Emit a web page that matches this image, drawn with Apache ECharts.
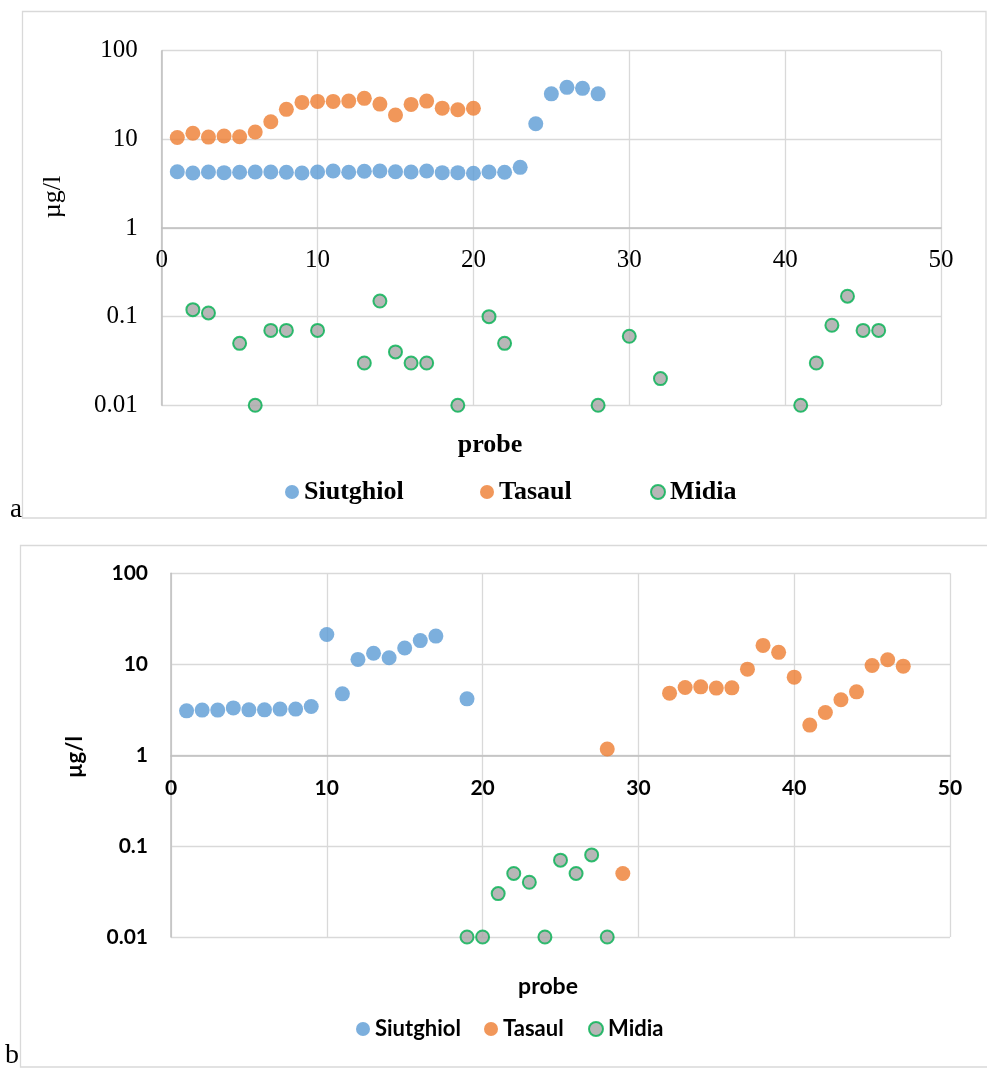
<!DOCTYPE html>
<html>
<head>
<meta charset="utf-8">
<script src="https://cdn.jsdelivr.net/npm/echarts@6/dist/echarts.min.js"></script>
<style>
html,body{margin:0;padding:0;background:#fff;}
#c{width:987px;height:1068px;}
</style>
</head>
<body>
<div id="c"></div>
<script>
// ---------- data ----------
const seriesNames = ['Siutghiol', 'Tasaul', 'Midia'];
const xTicks = [0, 10, 20, 30, 40, 50];
const yTickLabels = ['0.01', '0.1', '1', '10', '100'];

// chart a
const aSiutX = [1,2,3,4,5,6,7,8,9,10,11,12,13,14,15,16,17,18,19,20,21,22,23,24,25,26,27,28];
const aSiutY = [4.31,4.17,4.28,4.21,4.25,4.28,4.28,4.25,4.17,4.28,4.39,4.25,4.36,4.39,4.31,4.28,4.39,4.21,4.21,4.14,4.28,4.25,4.83,15.0,32.6,38.6,37.6,32.6];
const aTasX = [1,2,3,4,5,6,7,8,9,10,11,12,13,14,15,16,17,18,19,20];
const aTasY = [10.5,11.7,10.6,10.9,10.7,12.1,15.8,21.8,26.1,26.8,26.8,27.0,29.0,25.0,18.8,24.8,27.0,22.5,21.6,22.4];
const aMidX = [2,3,5,6,7,8,10,13,14,15,16,17,19,21,22,28,30,32,41,42,43,44,45,46];
const aMidY = [0.12,0.11,0.05,0.01,0.07,0.07,0.07,0.03,0.15,0.04,0.03,0.03,0.01,0.1,0.05,0.01,0.06,0.02,0.01,0.03,0.08,0.17,0.07,0.07];

// chart b
const bSiutX = [1,2,3,4,5,6,7,8,9,10,11,12,13,14,15,16,17,19];
const bSiutY = [3.07,3.13,3.13,3.31,3.15,3.15,3.21,3.21,3.43,21.2,4.72,11.3,13.2,11.8,15.1,18.2,20.4,4.16];
const bTasX = [28,29,32,33,34,35,36,37,38,39,40,41,42,43,44,45,46,47];
const bTasY = [1.17,0.05,4.81,5.54,5.64,5.46,5.50,8.83,16.1,13.5,7.21,2.14,2.94,4.06,4.97,9.68,11.2,9.53];
const bMidX = [19,20,21,22,23,24,25,26,27,28];
const bMidY = [0.01,0.01,0.03,0.05,0.04,0.01,0.07,0.05,0.08,0.01];

// ---------- styles ----------
const COL = {Siutghiol:'#5B9BD5', Tasaul:'#ED7D31', Midia:'#A5A5A5'};
const GRIDC = '#D9D9D9', AXC = '#BFBFBF';
const SERIF = '"Liberation Serif","Times New Roman",serif';
const SANS = 'Lato,"Open Sans",sans-serif';

const pairs = (xs, ys) => xs.map((x, i) => [x, ys[i]]);
const yFmt = v => yTickLabels[Math.round(Math.log10(v)) + 2];

function styleFor(name){
  if (name === 'Midia') return {symbolSize: 13, itemStyle: {color: COL.Midia, borderColor: '#00B050', borderWidth: 2}};
  return {symbolSize: 15, itemStyle: {color: COL[name]}};
}

const grids = [
  {left: 161.7, right: 46, top: 50.7, height: 354.6},   // a main
  {left: 161.7, right: 46, top: 50.7, height: 177.3},   // a x-axis carrier (bottom at y=1)
  {left: 171, right: 37, top: 573.3, height: 363.7},     // b main
  {left: 171, right: 37, top: 573.3, height: 182}        // b x-axis carrier
];

function mainX(gi){
  return {type:'value', gridIndex: gi, min: xTicks[0], max: xTicks[xTicks.length-1], interval: 10,
    axisLine:{show:false}, axisTick:{show:false}, axisLabel:{show:false},
    splitLine:{show:true, lineStyle:{color: GRIDC, width: 1.3}}};
}
function carrierX(gi, font, size, weight, margin){
  return {type:'value', gridIndex: gi, min: xTicks[0], max: xTicks[xTicks.length-1], interval: 10,
    axisLine:{show:true, onZero:false, lineStyle:{color: AXC, width: 1.5}}, axisTick:{show:false},
    axisLabel:{show:true, margin: margin, color:'#000', fontFamily: font, fontSize: size, fontWeight: weight},
    splitLine:{show:false}};
}
function mainY(gi, font, size, weight, margin){
  return {type:'log', logBase: 10, gridIndex: gi, min: 0.01, max: 100,
    axisLine:{show:true, lineStyle:{color: AXC, width: 1.5}}, axisTick:{show:false},
    axisLabel:{show:true, margin: margin, color:'#000', fontFamily: font, fontSize: size, fontWeight: weight, formatter: yFmt},
    splitLine:{show:true, lineStyle:{color: GRIDC, width: 1.3}}};
}
function hiddenY(gi){
  return {type:'value', gridIndex: gi, min:0, max:1, show:false};
}

function sc(name, xi, yi, xs, ys){
  return Object.assign({type:'scatter', name: name, xAxisIndex: xi, yAxisIndex: yi, clip:false,
    data: pairs(xs, ys), symbol:'circle', emphasis:{disabled:true}}, styleFor(name));
}

function leg(name, left, cy, font, size){
  return {data:[{name: name, icon:'circle'}], left: left, top: cy - size/2, padding: 0,
    itemWidth: 14, itemHeight: 14, itemGap: 0, selectedMode: false,
    textStyle:{fontFamily: font, fontSize: size, fontWeight:'bold', color:'#000', lineHeight: size}};
}

const option = {
  animation: false,
  backgroundColor: '#fff',
  grid: grids,
  xAxis: [mainX(0), carrierX(1, SERIF, 25, 'normal', 20), mainX(2), carrierX(3, SANS, 21, 'bold', 22)],
  yAxis: [mainY(0, SERIF, 25, 'normal', 24), hiddenY(1), mainY(2, SANS, 21, 'bold', 23), hiddenY(3)],
  legend: [
    leg('Siutghiol', 285, 492, SERIF, 26), leg('Tasaul', 480, 492, SERIF, 26), leg('Midia', 650, 492, SERIF, 26),
    leg('Siutghiol', 356, 1029, SANS, 22), leg('Tasaul', 484, 1029, SANS, 22), leg('Midia', 588, 1029, SANS, 22)
  ],
  series: [
    sc('Siutghiol', 0, 0, aSiutX, aSiutY),
    sc('Tasaul', 0, 0, aTasX, aTasY),
    sc('Midia', 0, 0, aMidX, aMidY),
    sc('Siutghiol', 2, 2, bSiutX, bSiutY),
    sc('Tasaul', 2, 2, bTasX, bTasY),
    sc('Midia', 2, 2, bMidX, bMidY)
  ],
  graphic: [
    {type:'rect', shape:{x:22.5, y:11.5, width:963.5, height:506.5}, style:{fill:'none', stroke:'#D9D9D9', lineWidth:1.3}, z:-1, silent:true},
    {type:'rect', shape:{x:20.5, y:545.5, width:975, height:521.5}, style:{fill:'none', stroke:'#D9D9D9', lineWidth:1.3}, z:-1, silent:true},
    {type:'text', x:53, y:197, rotation: Math.PI/2, style:{text:'µg/l', fontFamily: SERIF, fontSize:26, fill:'#000', textAlign:'center', textVerticalAlign:'middle'}},
    {type:'text', x:490, y:445, style:{text:'probe', fontFamily: SERIF, fontSize:26, fontWeight:'bold', fill:'#000', textAlign:'center', textVerticalAlign:'middle'}},
    {type:'text', x:16, y:510, style:{text:'a', fontFamily: SERIF, fontSize:27, fill:'#000', textAlign:'center', textVerticalAlign:'middle'}},
    {type:'text', x:75, y:757, rotation: Math.PI/2, style:{text:'µg/l', fontFamily: SANS, fontSize:22, fontWeight:'bold', fill:'#000', textAlign:'center', textVerticalAlign:'middle'}},
    {type:'text', x:548, y:987, style:{text:'probe', fontFamily: SANS, fontSize:23, fontWeight:'bold', fill:'#000', textAlign:'center', textVerticalAlign:'middle'}},
    {type:'text', x:12, y:1056, style:{text:'b', fontFamily: SERIF, fontSize:28, fill:'#000', textAlign:'center', textVerticalAlign:'middle'}}
  ]
};

const chart = echarts.init(document.getElementById('c'), null, {renderer:'canvas'});
chart.setOption(option);
</script>
</body>
</html>
